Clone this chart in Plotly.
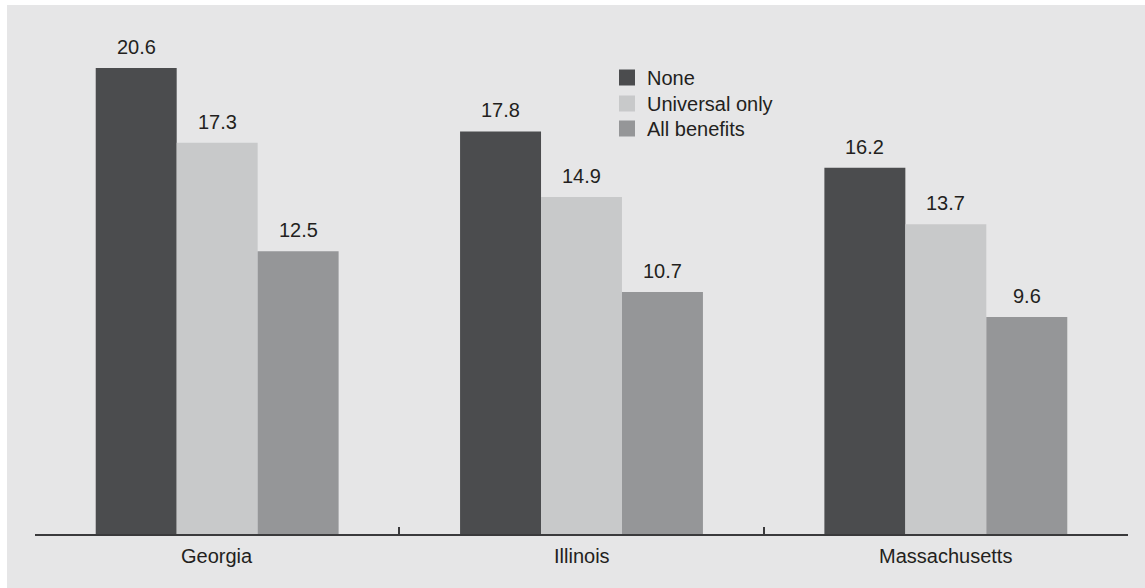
import plotly.graph_objects as go

# Categories and series values
states = ["Georgia", "Illinois", "Massachusetts"]
series_names = ["None", "Universal only", "All benefits"]
none_vals = [20.6, 17.8, 16.2]
universal_vals = [17.3, 14.9, 13.7]
all_benefit_vals = [12.5, 10.7, 9.6]

series_vals = [none_vals, universal_vals, all_benefit_vals]
colors = ["#4b4c4e", "#c8c9ca", "#959698"]

TEXT = "#231f20"
FONT = "Liberation Sans, Arial, sans-serif"
FS = 20
BAR_W = 2 / 9          # three bars fill two thirds of each category slot
Y_MAX = 23.17

L, R, T, B = 35, 17, 10, 54
W, H = 1145, 588
pw, ph = W - L - R, H - T - B

pos = list(range(len(states)))
legend_ids = ["legend", "legend2", "legend3"]
legend_tops = [58, 84, 109]   # pixel tops of the stacked key rows

fig = go.Figure()
annotations = []
legends = {}

for k, (name, vals, col) in enumerate(zip(series_names, series_vals, colors)):
    xs = [p + (k - 1) * BAR_W for p in pos]
    fig.add_trace(go.Bar(
        x=xs, y=vals, width=BAR_W, name=name,
        marker=dict(color=col, line=dict(width=0)),
        showlegend=False, hoverinfo="skip",
    ))
    # square key swatch, one row per legend
    fig.add_trace(go.Scatter(
        x=[None], y=[None], mode="markers", name=name,
        marker=dict(symbol="square", size=16, color=col, line=dict(width=0)),
        showlegend=True, legend=legend_ids[k],
    ))
    legends[legend_ids[k]] = dict(
        x=(607 - L) / pw, y=1 - (legend_tops[k] - T) / ph,
        xanchor="left", yanchor="top",
        bgcolor="rgba(0,0,0,0)", borderwidth=0,
        font=dict(family=FONT, size=FS, color=TEXT),
        itemclick=False, itemdoubleclick=False,
    )
    for x, v in zip(xs, vals):
        annotations.append(dict(
            x=x, y=v, xref="x", yref="y", text=f"{v:.1f}",
            showarrow=False, yanchor="bottom", xanchor="center", yshift=8,
            font=dict(family=FONT, size=FS, color=TEXT),
        ))

# category labels under the axis
for p, s in zip(pos, states):
    annotations.append(dict(
        x=p, y=0, xref="x", yref="y", text=s, showarrow=False,
        yanchor="top", xanchor="center", yshift=-9,
        font=dict(family=FONT, size=FS, color=TEXT),
    ))

fig.update_layout(
    width=W, height=H,
    margin=dict(l=L, r=R, t=T, b=B, pad=0),
    paper_bgcolor="white",
    plot_bgcolor="rgba(0,0,0,0)",
    barmode="overlay",
    font=dict(family=FONT, size=FS, color=TEXT),
    xaxis=dict(
        range=[-0.5, len(states) - 0.5],
        tickvals=[p - 0.5 for p in pos] + [len(states) - 0.5],
        ticks="inside", ticklen=7, tickwidth=1.5, tickcolor="#3a3a3c",
        showticklabels=False, showgrid=False, zeroline=False,
        showline=True, linecolor="#3a3a3c", linewidth=2,
        fixedrange=True,
    ),
    yaxis=dict(range=[0, Y_MAX], visible=False, fixedrange=True),
    annotations=annotations,
    shapes=[dict(
        type="rect", xref="paper", yref="paper", layer="below",
        x0=(7 - L) / pw, x1=1 + (R + 5) / pw,
        y0=-(B + 5) / ph, y1=1 + (T - 5) / ph,
        fillcolor="#e6e6e7", line=dict(width=0),
    )],
    **legends,
)

fig.write_html("out.html")
